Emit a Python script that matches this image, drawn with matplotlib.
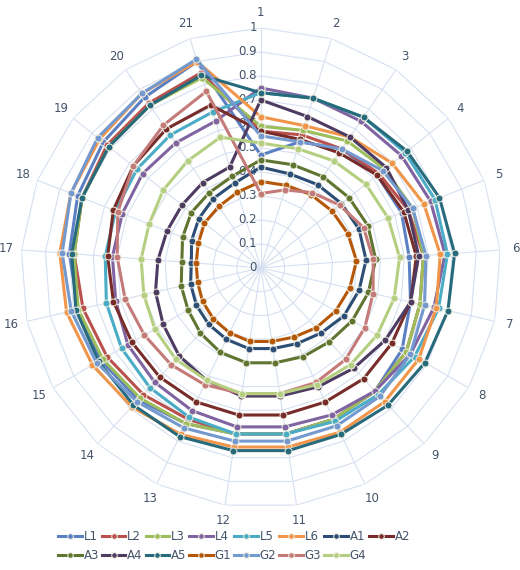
import numpy as np
import matplotlib.pyplot as plt
import matplotlib.transforms as mtransforms

categories = [str(i) for i in range(1, 22)]
series_names = ["L1", "L2", "L3", "L4", "L5", "L6", "A1", "A2",
                "A3", "A4", "A5", "G1", "G2", "G3", "G4"]

L1 = [0.47, 0.55, 0.60, 0.62, 0.63, 0.62, 0.64, 0.68, 0.70, 0.70, 0.70, 0.70, 0.72, 0.75, 0.77, 0.78, 0.80, 0.82, 0.84, 0.86, 0.90]
L2 = [0.57, 0.58, 0.60, 0.63, 0.66, 0.68, 0.68, 0.70, 0.70, 0.70, 0.70, 0.70, 0.70, 0.72, 0.74, 0.76, 0.78, 0.80, 0.82, 0.83, 0.85]
L3 = [0.59, 0.60, 0.64, 0.66, 0.68, 0.68, 0.68, 0.70, 0.70, 0.70, 0.70, 0.70, 0.72, 0.74, 0.76, 0.78, 0.78, 0.80, 0.81, 0.82, 0.83]
L4 = [0.75, 0.74, 0.74, 0.75, 0.76, 0.77, 0.74, 0.72, 0.70, 0.68, 0.67, 0.67, 0.66, 0.65, 0.64, 0.62, 0.62, 0.62, 0.63, 0.63, 0.64]
L5 = [0.73, 0.74, 0.76, 0.77, 0.78, 0.78, 0.76, 0.74, 0.72, 0.71, 0.70, 0.70, 0.69, 0.68, 0.67, 0.66, 0.65, 0.65, 0.66, 0.67, 0.68]
L6 = [0.63, 0.62, 0.66, 0.70, 0.73, 0.75, 0.75, 0.76, 0.76, 0.76, 0.755, 0.755, 0.77, 0.79, 0.81, 0.83, 0.84, 0.85, 0.86, 0.88, 0.90]
A1 = [0.42, 0.41, 0.42, 0.43, 0.44, 0.44, 0.42, 0.40, 0.37, 0.35, 0.34, 0.34, 0.33, 0.32, 0.31, 0.30, 0.29, 0.31, 0.33, 0.35, 0.37]
A2 = [0.57, 0.56, 0.58, 0.62, 0.64, 0.65, 0.64, 0.63, 0.63, 0.62, 0.62, 0.62, 0.62, 0.62, 0.62, 0.63, 0.64, 0.66, 0.68, 0.70, 0.71]
A3 = [0.45, 0.45, 0.46, 0.47, 0.48, 0.48, 0.46, 0.44, 0.42, 0.41, 0.40, 0.40, 0.39, 0.37, 0.35, 0.34, 0.33, 0.35, 0.37, 0.38, 0.40]
A4 = [0.70, 0.66, 0.66, 0.67, 0.66, 0.66, 0.64, 0.60, 0.57, 0.55, 0.54, 0.54, 0.52, 0.50, 0.47, 0.45, 0.43, 0.42, 0.42, 0.43, 0.44]
A5 = [0.73, 0.74, 0.76, 0.78, 0.80, 0.81, 0.80, 0.79, 0.78, 0.77, 0.77, 0.77, 0.78, 0.78, 0.78, 0.79, 0.79, 0.80, 0.81, 0.82, 0.84]
G1 = [0.36, 0.36, 0.37, 0.38, 0.39, 0.40, 0.38, 0.36, 0.34, 0.32, 0.31, 0.31, 0.30, 0.29, 0.28, 0.27, 0.27, 0.28, 0.30, 0.31, 0.33]
G2 = [0.55, 0.55, 0.60, 0.65, 0.68, 0.69, 0.70, 0.72, 0.73, 0.73, 0.73, 0.73, 0.74, 0.76, 0.79, 0.81, 0.83, 0.85, 0.87, 0.88, 0.91]
G3 = [0.31, 0.34, 0.38, 0.42, 0.46, 0.47, 0.48, 0.50, 0.52, 0.53, 0.53, 0.53, 0.54, 0.55, 0.56, 0.58, 0.60, 0.64, 0.68, 0.72, 0.77]
G4 = [0.52, 0.52, 0.54, 0.56, 0.57, 0.58, 0.57, 0.56, 0.55, 0.54, 0.53, 0.53, 0.52, 0.52, 0.51, 0.50, 0.50, 0.50, 0.52, 0.54, 0.57]

all_series = [L1, L2, L3, L4, L5, L6, A1, A2, A3, A4, A5, G1, G2, G3, G4]
colors = ["#5b7fc3", "#b9504c", "#9dbd5a", "#8064a2", "#4bacc6", "#f0954a",
          "#2c4d75", "#772c2a", "#5f7530", "#4d3b62", "#276a7c", "#b65708",
          "#7399cf", "#c47a78", "#b5cf80"]
r_ticks = np.arange(0, 1.01, 0.1)

grid_c = "#d6e0f0"
text_c = "#44546a"

fig = plt.figure(figsize=(5.2, 5.7), dpi=100)
ax = fig.add_axes([0.04, 0.109, 0.923, 0.842], polar=True)
ax.set_theta_zero_location("N")
ax.set_theta_direction(-1)
ax.set_ylim(0, 1)
ax.grid(False)
ax.spines["polar"].set_visible(False)
ax.set_xticks([])
ax.set_yticks([])

n = len(categories)
theta = np.linspace(0, 2 * np.pi, n, endpoint=False)
theta_c = np.append(theta, theta[0])

# polygon grid
for r in r_ticks[1:]:
    ax.plot(theta_c, [r] * (n + 1), color=grid_c, lw=0.8, zorder=0)
for t in theta:
    ax.plot([t, t], [0, 1], color=grid_c, lw=0.8, zorder=0)
shift = mtransforms.offset_copy(ax.transData, fig=fig, x=-4, y=0, units="dots")
for r in r_ticks:
    ax.text(0, r, f"{r:g}", ha="right", va="center", fontsize=8.5,
            color=text_c, zorder=1, transform=shift)
for t, lab in zip(theta, categories):
    ax.text(t, 1.065, lab, ha="center", va="center", fontsize=8.5, color=text_c)

for name, vals, c in zip(series_names, all_series, colors):
    v = np.append(vals, vals[0])
    ax.plot(theta_c, v, color=c, lw=2.2, marker="o", ms=5,
            mec="#eeeee0", mew=0.7, label=name, zorder=2)

# legend filled row by row like the original
handles, labels = ax.get_legend_handles_labels()
order = []
for j in range(8):
    order.append(j)
    if j + 8 < len(handles):
        order.append(j + 8)
fig.legend([handles[i] for i in order], [labels[i] for i in order],
           loc="lower center", ncol=8, frameon=False, fontsize=8.5,
           bbox_to_anchor=(0.45, -0.005), handlelength=2.0, handletextpad=0.15,
           columnspacing=0.25, labelcolor=text_c, markerscale=0.8)
fig.savefig("out.png", dpi=100)
